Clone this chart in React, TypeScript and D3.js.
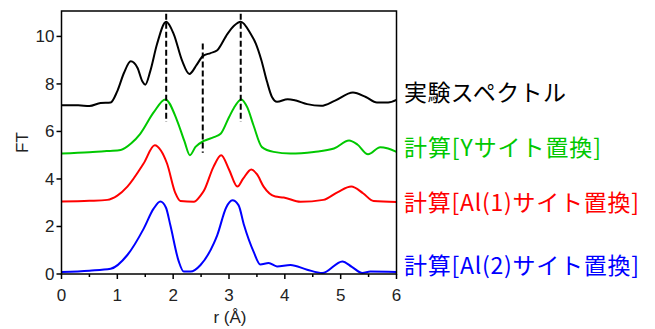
import React from "react";
import * as d3 from "d3";

// experimental spectrum (black)
const expR = [0, 0.3, 0.5, 0.7, 0.88, 1.0, 1.12, 1.24, 1.36, 1.45, 1.5, 1.59, 1.71, 1.875, 2.01, 2.16, 2.29, 2.42, 2.53, 2.67, 2.79, 2.97, 3.09, 3.21, 3.39, 3.48, 3.58, 3.68, 3.77, 3.86, 4.05, 4.2, 4.4, 4.65, 4.9, 5.22, 5.45, 5.65, 5.85, 6.0];
const expFT = [7.1, 7.1, 7.07, 7.2, 7.22, 7.7, 8.47, 8.95, 8.68, 8.1, 7.97, 8.54, 9.67, 10.62, 10.1, 8.98, 8.42, 8.8, 9.17, 9.3, 9.42, 10.1, 10.45, 10.62, 10.1, 9.7, 9.0, 8.1, 7.45, 7.25, 7.36, 7.3, 7.15, 7.08, 7.3, 7.64, 7.45, 7.22, 7.22, 7.33];

// calc: Y site substitution (green)
const yR = [0, 0.5, 0.85, 1.06, 1.25, 1.41, 1.65, 1.86, 2.07, 2.2, 2.3, 2.4, 2.55, 2.73, 2.85, 3.0, 3.09, 3.22, 3.33, 3.44, 3.59, 3.8, 4.1, 4.52, 4.88, 5.15, 5.3, 5.49, 5.71, 5.85, 6.0];
const yFT = [5.07, 5.12, 5.18, 5.22, 5.5, 5.9, 6.8, 7.35, 6.46, 5.6, 5.0, 5.35, 5.6, 5.76, 5.9, 6.6, 7.0, 7.35, 7.0, 6.25, 5.34, 5.14, 5.07, 5.14, 5.28, 5.62, 5.45, 5.04, 5.34, 5.28, 5.14];

// calc: Al(1) site substitution (red)
const al1R = [0, 0.5, 0.82, 1.0, 1.18, 1.47, 1.67, 1.78, 1.89, 2.04, 2.13, 2.37, 2.49, 2.55, 2.72, 2.86, 3.0, 3.15, 3.25, 3.4, 3.5, 3.62, 3.83, 3.98, 4.28, 4.69, 4.95, 5.19, 5.4, 5.59, 6.0];
const al1FT = [3.05, 3.08, 3.12, 3.3, 3.68, 4.65, 5.42, 5.2, 4.65, 3.4, 3.07, 3.04, 3.3, 3.5, 4.5, 5.0, 4.4, 3.68, 4.0, 4.4, 4.2, 3.68, 3.26, 3.22, 3.04, 3.12, 3.45, 3.68, 3.4, 3.07, 3.03];

// calc: Al(2) site substitution (blue)
const al2R = [0, 0.5, 0.88, 1.18, 1.47, 1.65, 1.77, 1.87, 1.95, 2.1, 2.19, 2.31, 2.49, 2.73, 2.79, 2.95, 3.06, 3.17, 3.27, 3.44, 3.56, 3.71, 3.86, 4.1, 4.4, 4.67, 5.03, 5.2, 5.39, 5.53, 6.0];
const al2FT = [0.08, 0.14, 0.22, 0.8, 1.9, 2.75, 3.05, 2.8, 2.05, 0.53, 0.1, 0.1, 0.38, 1.3, 1.64, 2.8, 3.1, 2.9, 2.05, 0.94, 0.4, 0.46, 0.32, 0.38, 0.18, 0.04, 0.53, 0.3, 0.04, 0.1, 0.08];

const seriesLabels = ["実験スペクトル", "計算[Yサイト置換]", "計算[Al(1)サイト置換]", "計算[Al(2)サイト置換]"];
const seriesColors = ["#000000", "#00c800", "#ff0000", "#0000ff"];
const labelY = [93, 148, 203, 266];
const labelWidth = [162, 197, 235, 235];

// dashed reference lines: r, top FT, bottom FT
const dashR = [1.875, 2.53, 3.21];
const dashTop = [10.95, 9.7, 10.95];
const dashBottom = [6.4, 5.1, 6.4];

const xTicks = [0, 1, 2, 3, 4, 5, 6];
const xMinor = [0.5, 1.5, 2.5, 3.5, 4.5, 5.5];
const yTicks = [0, 2, 4, 6, 8, 10];

const App = () => {
  const width = 655;
  const height = 329;
  const left = 61.5;
  const right = 396.5;
  const top = 11;
  const bottom = 274;

  const x = d3.scaleLinear().domain([0, 6]).range([left, right]);
  const y = d3.scaleLinear().domain([0, 11.07]).range([bottom, top]);

  const line = d3
    .line<[number, number]>()
    .x((d) => x(d[0]))
    .y((d) => y(d[1]))
    .curve(d3.curveMonotoneX);

  const series = [
    d3.zip(expR, expFT),
    d3.zip(yR, yFT),
    d3.zip(al1R, al1FT),
    d3.zip(al2R, al2FT),
  ] as [number, number][][];

  const axisFont = "Liberation Sans, Arial, sans-serif";
  const jpFont = "'Noto Sans CJK JP', sans-serif";

  return (
    <svg
      width={width}
      height={height}
      style={{ position: "absolute", left: 0, top: 0, background: "#fff" }}
    >
      {series.map((s, i) => (
        <path key={i} d={line(s) || ""} fill="none" stroke={seriesColors[i]} strokeWidth={2} />
      ))}

      {dashR.map((r, i) => (
        <line
          key={i}
          x1={x(r)}
          x2={x(r)}
          y1={y(dashTop[i])}
          y2={y(dashBottom[i])}
          stroke="#000"
          strokeWidth={2}
          strokeDasharray="6,3"
        />
      ))}

      <rect x={left} y={top} width={right - left} height={bottom - top} fill="none" stroke="#000" strokeWidth={1.5} />

      {xTicks.map((t) => (
        <g key={t}>
          <line x1={x(t)} x2={x(t)} y1={bottom} y2={bottom + 5} stroke="#000" strokeWidth={1.5} />
          <text x={x(t)} y={301} textAnchor="middle" fontFamily={axisFont} fontSize={17} fill="#222">
            {t}
          </text>
        </g>
      ))}
      {xMinor.map((t) => (
        <line key={t} x1={x(t)} x2={x(t)} y1={bottom} y2={bottom + 3} stroke="#000" strokeWidth={1.5} />
      ))}
      {yTicks.map((t) => (
        <g key={t}>
          <line x1={left - 5} x2={left} y1={y(t)} y2={y(t)} stroke="#000" strokeWidth={1.5} />
          <text x={left - 7} y={y(t) + 6} textAnchor="end" fontFamily={axisFont} fontSize={17} fill="#222">
            {t}
          </text>
        </g>
      ))}

      <text x={230} y={323} textAnchor="middle" fontFamily={axisFont} fontSize={17} fill="#222">
        r (Å)
      </text>
      <text
        transform={`translate(28,${(top + bottom) / 2}) rotate(-90)`}
        textAnchor="middle"
        fontFamily={axisFont}
        fontSize={17}
        fill="#222"
      >
        FT
      </text>

      {seriesLabels.map((lab, i) => (
        <text
          key={i}
          x={404}
          y={labelY[i] + 8}
          fontFamily={jpFont}
          fontSize={23}
          fill={seriesColors[i]}
          textLength={labelWidth[i]}
          lengthAdjust="spacing"
        >
          {lab}
        </text>
      ))}
    </svg>
  );
};

export default App;
